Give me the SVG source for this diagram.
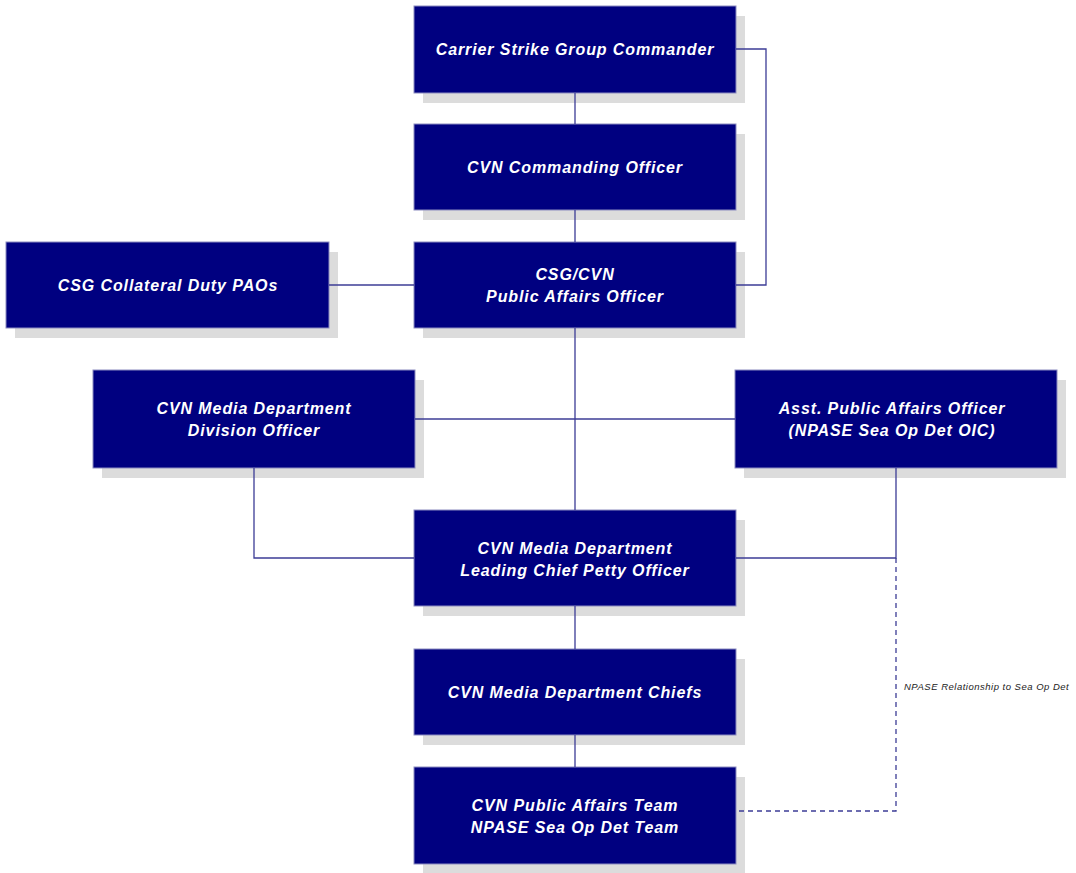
<svg xmlns="http://www.w3.org/2000/svg" width="1076" height="873" viewBox="0 0 1076 873">
<style>
.sh{fill:#dcdcdc}
.bx{fill:#000080;stroke:#8c8cc0;stroke-width:1}
.t{font-family:"Liberation Sans",Arial,sans-serif;font-size:16px;font-weight:bold;font-style:italic;fill:#ffffff;text-anchor:middle;letter-spacing:0.9px}
.c{fill:none;stroke:#3c3c96;stroke-width:1.3}
.d{fill:none;stroke:#3c3c96;stroke-width:1.3;stroke-dasharray:5,4}
.lb{font-family:"Liberation Sans",Arial,sans-serif;font-size:9.5px;font-style:italic;fill:#222222;letter-spacing:0.5px}
</style>
<rect width="1076" height="873" fill="#ffffff"/>
<g id="n1"><rect class="sh" x="423" y="16" width="322" height="87"/><rect class="bx" x="414" y="6" width="322" height="87"/><text class="t" x="575" y="55">Carrier Strike Group Commander</text></g>
<g id="n2"><rect class="sh" x="423" y="134" width="322" height="86"/><rect class="bx" x="414" y="124" width="322" height="86"/><text class="t" x="575" y="173">CVN Commanding Officer</text></g>
<g id="n3"><rect class="sh" x="423" y="252" width="322" height="86"/><rect class="bx" x="414" y="242" width="322" height="86"/><text class="t" x="575" y="280">CSG/CVN</text><text class="t" x="575" y="302">Public Affairs Officer</text></g>
<g id="n4"><rect class="sh" x="15" y="252" width="323" height="86"/><rect class="bx" x="6" y="242" width="323" height="86"/><text class="t" x="168" y="291">CSG Collateral Duty PAOs</text></g>
<g id="n5"><rect class="sh" x="102" y="380" width="322" height="98"/><rect class="bx" x="93" y="370" width="322" height="98"/><text class="t" x="254" y="414">CVN Media Department</text><text class="t" x="254" y="436">Division Officer</text></g>
<g id="n6"><rect class="sh" x="744" y="380" width="322" height="98"/><rect class="bx" x="735" y="370" width="322" height="98"/><text class="t" x="892" y="414">Asst. Public Affairs Officer</text><text class="t" x="892" y="436">(NPASE Sea Op Det OIC)</text></g>
<g id="n7"><rect class="sh" x="423" y="520" width="322" height="96"/><rect class="bx" x="414" y="510" width="322" height="96"/><text class="t" x="575" y="554">CVN Media Department</text><text class="t" x="575" y="576">Leading Chief Petty Officer</text></g>
<g id="n8"><rect class="sh" x="423" y="659" width="322" height="86"/><rect class="bx" x="414" y="649" width="322" height="86"/><text class="t" x="575" y="698">CVN Media Department Chiefs</text></g>
<g id="n9"><rect class="sh" x="423" y="777" width="322" height="97"/><rect class="bx" x="414" y="767" width="322" height="97"/><text class="t" x="575" y="811">CVN Public Affairs Team</text><text class="t" x="575" y="833">NPASE Sea Op Det Team</text></g>
<g id="connectors">
<path class="c" d="M575,93V124M575,210V242M575,328V510M575,606V649M575,735V767"/>
<path class="c" d="M736,49H766V285H736"/>
<path class="c" d="M329,285H414"/>
<path class="c" d="M415,419H735"/>
<path class="c" d="M254,468V558H414"/>
<path class="c" d="M896,468V558H736"/>
<path class="d" d="M896,558V811H736"/>
</g>
<text class="lb" x="904" y="690">NPASE Relationship to Sea Op Det</text>
</svg>
